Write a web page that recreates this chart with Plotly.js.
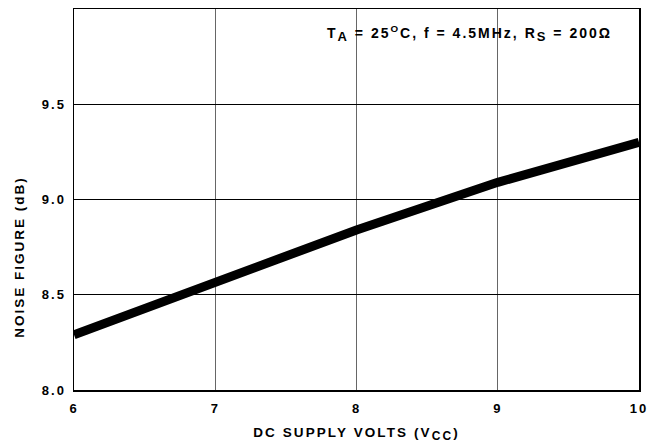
<!DOCTYPE html>
<html>
<head>
<meta charset="utf-8">
<script src="https://cdn.plot.ly/plotly-3.0.1.min.js"></script>
<style>
html,body{margin:0;padding:0;background:#fff;}
#chart{width:655px;height:447px;}
#chart .xtick text, #chart .ytick text {letter-spacing:2px;}
#chart .xtitle {letter-spacing:2.1px;}
#chart .annotation-text {letter-spacing:2px;}
</style>
</head>
<body>
<div id="chart"></div>
<script>
var supplyVolts = [6, 7, 8, 9, 10];
var noiseFigure = [8.29, 8.57, 8.84, 9.09, 9.30];
var xTicks = [6, 7, 8, 9, 10];
var yTicks = [8.0, 8.5, 9.0, 9.5];
var yTickLabels = ['8.0', '8.5', '9.0', '9.5'];

var font = 'Liberation Sans, Arial, Helvetica, sans-serif';

var trace = {
  x: supplyVolts,
  y: noiseFigure,
  mode: 'lines',
  line: {color: '#000', width: 9},
  hoverinfo: 'skip'
};

var layout = {
  width: 655, height: 447,
  margin: {l: 74, r: 16, t: 9, b: 57},
  paper_bgcolor: '#fff', plot_bgcolor: '#fff',
  showlegend: false,
  font: {family: font, color: '#000'},
  xaxis: {
    range: [6, 10], tickvals: xTicks, ticktext: xTicks.map(String),
    showgrid: true, gridcolor: '#666', gridwidth: 1,
    zeroline: false, showline: true, linecolor: '#000', linewidth: 1.5, mirror: true,
    ticks: '', ticklen: 0, ticklabelstandoff: 6,
    tickfont: {family: font, size: 13, color: '#000', weight: 'bold'},
    title: {text: 'DC SUPPLY VOLTS (V<sub><span style="font-size:12px">CC</span></sub>)', font: {family: font, size: 13.5, color: '#000', weight: 'bold'}, standoff: 12}
  },
  yaxis: {
    range: [8.0, 10.0], tickvals: yTicks, ticktext: yTickLabels,
    showgrid: true, gridcolor: '#000', gridwidth: 1,
    zeroline: false, showline: true, linecolor: '#000', linewidth: 1.5, mirror: true,
    ticks: '', ticklen: 0, ticklabelstandoff: 4,
    tickfont: {family: font, size: 13, color: '#000', weight: 'bold'}
  },
  annotations: [{
    xref: 'paper', yref: 'paper', x: 0.70, y: 0.937, xanchor: 'center', yanchor: 'middle',
    showarrow: false,
    text: 'T<sub><span style="font-size:13px">A</span></sub> = 25<sup>O</sup>C, f = 4.5MHz, R<sub><span style="font-size:13px">S</span></sub> = 200Ω',
    font: {family: font, size: 14, color: '#000', weight: 'bold'}
  }, {
    xref: 'paper', yref: 'y', x: -0.097, y: 8.70, xanchor: 'center', yanchor: 'middle',
    showarrow: false, textangle: -90,
    text: 'NOISE FIGURE (dB)',
    font: {family: font, size: 13.5, color: '#000', weight: 'bold'}
  }]
};

Plotly.newPlot('chart', [trace], layout, {staticPlot: true, displayModeBar: false});
</script>
</body>
</html>
